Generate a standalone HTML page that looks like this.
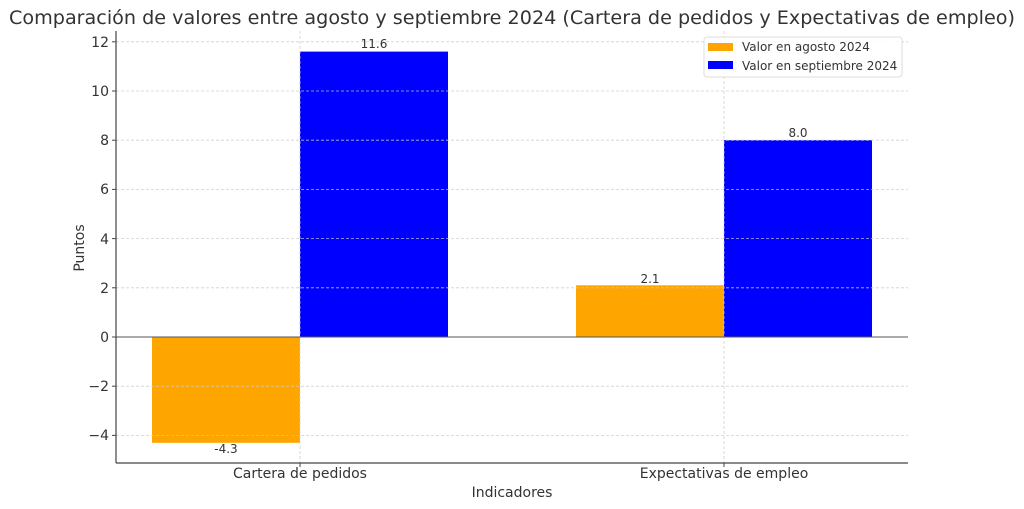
<!DOCTYPE html>
<html><head><meta charset="utf-8"><style>body{margin:0;background:#fff}svg{display:block}text{font-family:"DejaVu Sans","Liberation Sans",sans-serif;fill:#333}</style></head>
<body>
<svg width="1024" height="509" viewBox="0 0 1024 509" xmlns="http://www.w3.org/2000/svg">
<rect width="1024" height="509" fill="#fff"/>
<text x="512" y="24" font-size="19" text-anchor="middle" textLength="1006" lengthAdjust="spacingAndGlyphs">Comparación de valores entre agosto y septiembre 2024 (Cartera de pedidos y Expectativas de empleo)</text>
<!-- bars -->
<rect x="152" y="337" width="148" height="105.8" fill="#ffa500"/>
<rect x="300" y="51.6" width="148" height="285.4" fill="#0000ff"/>
<rect x="576" y="285.3" width="148" height="51.7" fill="#ffa500"/>
<rect x="724" y="140.2" width="148" height="196.8" fill="#0000ff"/>
<!-- grid -->
<g stroke="#ccc" stroke-width="0.8" stroke-dasharray="3,2" opacity="0.9">
<line x1="116" x2="908" y1="41.8" y2="41.8"/><line x1="116" x2="908" y1="91" y2="91"/>
<line x1="116" x2="908" y1="140.2" y2="140.2"/><line x1="116" x2="908" y1="189.4" y2="189.4"/>
<line x1="116" x2="908" y1="238.6" y2="238.6"/><line x1="116" x2="908" y1="287.8" y2="287.8"/>
<line x1="116" x2="908" y1="386.2" y2="386.2"/><line x1="116" x2="908" y1="435.4" y2="435.4"/>
<line x1="300" x2="300" y1="31" y2="463"/><line x1="724" x2="724" y1="31" y2="463"/>
</g>
<line x1="116" x2="908" y1="337" y2="337" stroke="#555" stroke-width="1"/>
<line x1="116" x2="116" y1="31" y2="463" stroke="#444" stroke-width="1.2"/>
<line x1="116" x2="908" y1="463" y2="463" stroke="#444" stroke-width="1.2"/>
<g stroke="#444"><line x1="112" x2="116" y1="41.8" y2="41.8"/><line x1="112" x2="116" y1="91" y2="91"/><line x1="112" x2="116" y1="140.2" y2="140.2"/><line x1="112" x2="116" y1="189.4" y2="189.4"/><line x1="112" x2="116" y1="238.6" y2="238.6"/><line x1="112" x2="116" y1="287.8" y2="287.8"/><line x1="112" x2="116" y1="337" y2="337"/><line x1="112" x2="116" y1="386.2" y2="386.2"/><line x1="112" x2="116" y1="435.4" y2="435.4"/>
<line x1="300" x2="300" y1="463" y2="467"/><line x1="724" x2="724" y1="463" y2="467"/></g>
<g font-size="14" text-anchor="end">
<text x="109" y="47">12</text><text x="109" y="96">10</text><text x="109" y="145">8</text><text x="109" y="194">6</text><text x="109" y="244">4</text><text x="109" y="293">2</text><text x="109" y="342">0</text><text x="109" y="391">−2</text><text x="109" y="440">−4</text></g>
<g font-size="14" text-anchor="middle"><text x="300" y="478">Cartera de pedidos</text><text x="724" y="478">Expectativas de empleo</text>
<text x="512" y="497">Indicadores</text>
<text transform="translate(84,248) rotate(-90)">Puntos</text></g>
<g font-size="12" text-anchor="middle"><text x="226" y="453">-4.3</text><text x="374" y="48">11.6</text><text x="650" y="283">2.1</text><text x="798" y="137">8.0</text></g>
<rect x="704" y="37" width="198" height="40" rx="3" fill="#fff" fill-opacity="0.85" stroke="#ddd"/>
<rect x="708" y="43" width="25" height="8" fill="#ffa500"/><rect x="708" y="61" width="25" height="8" fill="#0000ff"/>
<g font-size="12"><text x="742" y="51">Valor en agosto 2024</text><text x="742" y="70">Valor en septiembre 2024</text></g>
</svg>
</body></html>
